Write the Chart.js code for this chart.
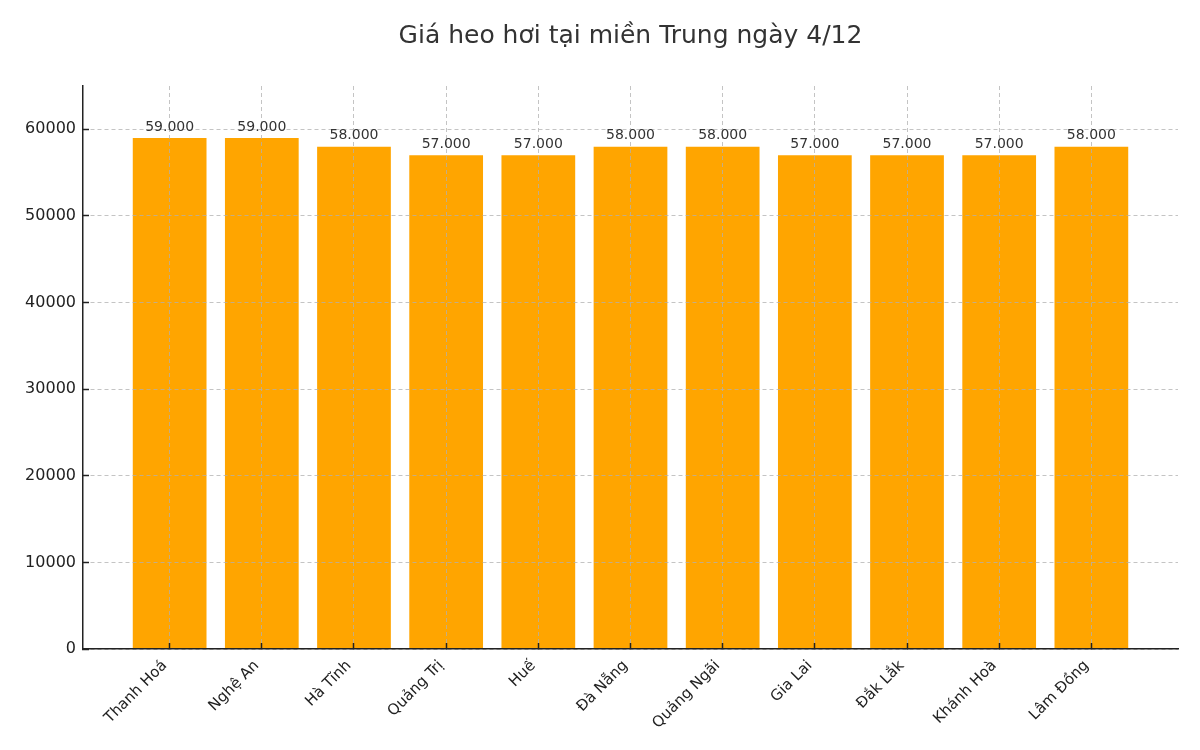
<!DOCTYPE html>
<html>
<head>
<meta charset="utf-8">
<script src="https://cdn.jsdelivr.net/npm/chart.js@4.4.0/dist/chart.umd.min.js"></script>
<style>
  html, body { margin: 0; padding: 0; background: #fff; }
  #wrap { width: 1200px; height: 750px; }
</style>
</head>
<body>
<div id="wrap"><canvas id="myChart" width="1200" height="750"></canvas></div>
<script>
const provinces = ['Thanh Hoá', 'Nghệ An', 'Hà Tĩnh', 'Quảng Trị', 'Huế', 'Đà Nẵng',
  'Quảng Ngãi', 'Gia Lai', 'Đắk Lắk', 'Khánh Hoà', 'Lâm Đồng'];
const prices = [59000, 59000, 58000, 57000, 57000, 58000, 58000, 57000, 57000, 57000, 58000];
const yTicks = [0, 10000, 20000, 30000, 40000, 50000, 60000];

const FONT = "'DejaVu Sans', sans-serif";
// vạch chia hướng vào trong như matplotlib (tickLength âm)
const gridStyle = {
  offset: false,
  z: 1,
  color: 'rgba(176,176,176,0.75)',
  lineWidth: 1,
  tickColor: '#222',
  tickLength: -6,
  tickWidth: 1.5
};
const borderStyle = { display: true, color: '#222', width: 1.5, dash: [4, 3], z: 2 };

// nhãn giá trên đầu mỗi cột, dạng 59.000
const barLabels = {
  id: 'barLabels',
  afterDraw(chart) {
    const c = chart.ctx;
    const meta = chart.getDatasetMeta(0);
    c.save();
    c.font = '14px ' + FONT;
    c.fillStyle = '#333';
    c.textAlign = 'center';
    c.textBaseline = 'bottom';
    meta.data.forEach((bar, i) => {
      const txt = prices[i].toLocaleString('de-DE');
      c.fillText(txt, bar.x, bar.y - 4);
    });
    c.restore();
  }
};

const ctx = document.getElementById('myChart');
new Chart(ctx, {
  type: 'bar',
  data: {
    datasets: [{
      label: 'Giá heo hơi',
      data: prices.map((v, i) => ({ x: i, y: v })),
      backgroundColor: '#FFA500',
      borderWidth: 0,
      categoryPercentage: 1,
      barPercentage: 0.8
    }]
  },
  options: {
    responsive: false,
    animation: false,
    layout: { padding: { left: 0, right: 22, top: 0, bottom: 0 } },
    plugins: {
      legend: { display: false },
      tooltip: { enabled: false },
      title: {
        display: true,
        fullSize: false,
        text: 'Giá heo hơi tại miền Trung ngày 4/12',
        color: '#333',
        font: { family: FONT, size: 25, weight: 'normal' },
        padding: { top: 21, bottom: 35 }
      }
    },
    scales: {
      x: {
        type: 'linear',
        offset: false,
        min: -0.94,
        max: 10.94,
        afterBuildTicks: (scale) => { scale.ticks = provinces.map((_, i) => ({ value: i })); },
        afterFit: (scale) => { scale.height = 101; },
        grid: gridStyle,
        border: borderStyle,
        ticks: {
          autoSkip: false,
          maxRotation: 45,
          minRotation: 45,
          padding: 14,
          labelOffset: -5,
          color: '#222',
          font: { family: FONT, size: 15 },
          callback: (value) => provinces[value] ?? ''
        }
      },
      y: {
        min: 0,
        max: 65000,
        afterBuildTicks: (scale) => { scale.ticks = yTicks.map(v => ({ value: v })); },
        afterFit: (scale) => { scale.width = 83; },
        grid: gridStyle,
        border: borderStyle,
        ticks: {
          padding: 13,
          color: '#222',
          font: { family: FONT, size: 16 },
          callback: (value) => String(value)
        }
      }
    }
  },
  plugins: [barLabels]
});
</script>
</body>
</html>
